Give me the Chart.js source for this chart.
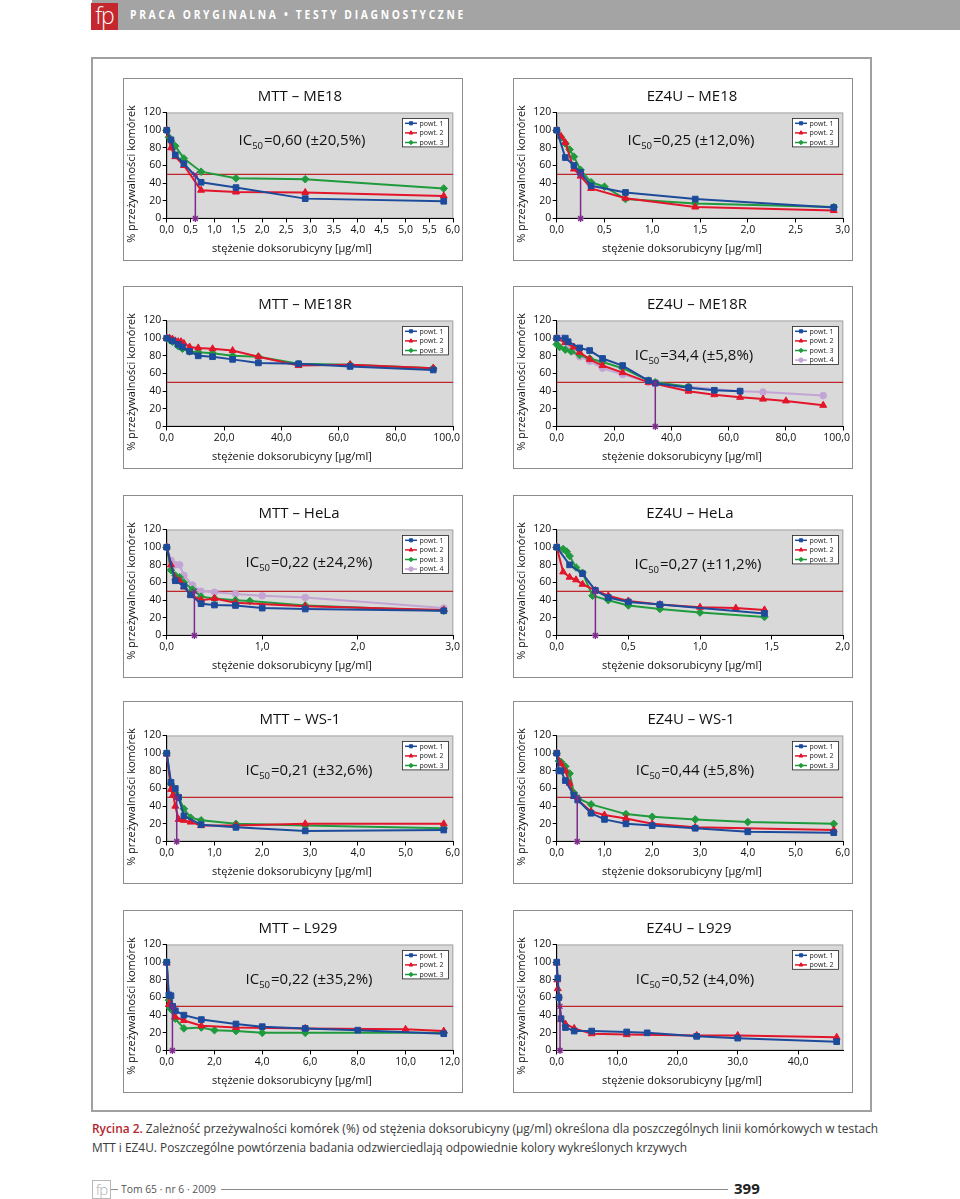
<!DOCTYPE html>
<html lang="pl">
<head>
<meta charset="utf-8">
<title>Rycina 2</title>
<script src="https://cdn.jsdelivr.net/npm/chart.js@4.4.1/dist/chart.umd.min.js"></script>
<style>
  html, body { margin: 0; padding: 0; background: #fff; }
  body { position: relative; width: 960px; height: 1199px; overflow: hidden; font-family: 'Open Sans', sans-serif; }
  .topbar { position: absolute; left: 92px; top: 0; width: 868px; height: 30px; background: #a4a4a4; }
  .logo { position: absolute; left: 91px; top: 3px; width: 27px; height: 27px; background: #c4282e; color: #fff;
          font: 300 23px/24px 'Open Sans'; text-align: center; letter-spacing: -1px; }
  .section { position: absolute; left: 130px; top: 8px; color: #fff; font: bold 11.5px/14px 'Open Sans';
             letter-spacing: 3px; white-space: nowrap; }
  .frame { position: absolute; left: 91px; top: 57px; width: 777px; height: 1051px; border: 2px solid #a0a0a0; }
  .panel { position: absolute; width: 338px; height: 181px; border: 1px solid #8c8c8c; background: #fff; }
  .panel canvas { display: block; position: absolute; left: 0; top: 0; }
  .cap { position: absolute; left: 92px; white-space: nowrap; font: 12.5px/16px 'Open Sans'; color: #3a3a3a; transform-origin: 0 50%; }
  .cap b { color: #b3262f; font-weight: 600; }
  .foot-logo { position: absolute; left: 92px; top: 1180px; width: 17px; height: 17px; border: 1px solid #b8b8b8;
               color: #b0b0b0; font: 300 15px/16px 'Open Sans'; text-align: center; letter-spacing: -1px; }
  .foot-line { position: absolute; height: 1px; background: #8a8a8a; top: 1189px; }
  .foot-text { position: absolute; left: 121px; top: 1181px; font: 10.5px/16px 'Open Sans'; color: #555; white-space: nowrap; }
  .page-no { position: absolute; left: 734px; top: 1178px; font: bold 15px/20px 'Open Sans'; color: #222; }
</style>
</head>
<body>
<div class="topbar"></div>
<div class="logo">fp</div>
<div class="section" id="section">PRACA ORYGINALNA • TESTY DIAGNOSTYCZNE</div>
<div class="frame"></div>

<div class="cap" id="cap1" style="top:1121px"><b>Rycina 2.</b> Zależność przeżywalności komórek (%) od stężenia doksorubicyny (µg/ml) określona dla poszczególnych linii komórkowych w testach</div>
<div class="cap" id="cap2" style="top:1140px">MTT i EZ4U. Poszczególne powtórzenia badania odzwierciedlają odpowiednie kolory wykreślonych krzywych</div>

<div class="foot-logo">fp</div>
<div class="foot-line" style="left:111px; width:7px"></div>
<div class="foot-text" id="foottext">Tom 65 · nr 6 · 2009</div>
<div class="foot-line" style="left:221px; width:507px"></div>
<div class="page-no">399</div>

<script>
// ---- data ----
const refLevel = 50;

// MTT – ME18
const mttMe18X1 = [0, 0.09, 0.18, 0.36, 0.72, 1.45, 2.9, 5.8];
const mttMe18Y1 = [100, 89, 72, 62, 41, 35, 22.5, 19.5];
const mttMe18X2 = [0, 0.09, 0.18, 0.36, 0.72, 1.45, 2.9, 5.8];
const mttMe18Y2 = [100, 80, 70, 60, 32, 30, 29.5, 25.5];
const mttMe18X3 = [0, 0.045, 0.09, 0.18, 0.36, 0.72, 1.45, 2.9, 5.8];
const mttMe18Y3 = [100, 92, 88, 82, 68, 53, 45.5, 44.5, 34];

// EZ4U – ME18
const ezMe18X1 = [0, 0.09, 0.18, 0.25, 0.36, 0.72, 1.45, 2.9];
const ezMe18Y1 = [100, 69, 60, 52, 37, 29.5, 22, 12.5];
const ezMe18X2 = [0, 0.045, 0.09, 0.18, 0.25, 0.36, 0.72, 1.45, 2.9];
const ezMe18Y2 = [100, 93, 86, 56, 48, 34, 23, 13, 9];
const ezMe18X3 = [0, 0.045, 0.09, 0.135, 0.18, 0.25, 0.36, 0.5, 0.72, 1.45, 2.9];
const ezMe18Y3 = [100, 92, 85, 78, 70, 55, 41, 36, 22, 17, 13];

// MTT – ME18R
const mttMe18rX1 = [0, 2, 4, 5.5, 8, 11, 16, 23, 32, 46, 64, 93];
const mttMe18rY1 = [100, 97, 93, 90, 85, 80, 79, 76, 72, 71, 68, 64];
const mttMe18rX2 = [0, 1, 2, 3, 4, 5, 6, 8, 11, 16, 23, 32, 46, 64, 93];
const mttMe18rY2 = [100, 100, 99, 97, 96, 96, 94, 90, 89, 88, 86, 79, 69, 70, 66];
const mttMe18rX3 = [0, 1, 2, 4, 5.5, 8, 11, 16, 23, 32, 46, 64, 93];
const mttMe18rY3 = [100, 98, 96, 91, 88, 85, 84, 83, 80, 79, 71, 70, 66];

// EZ4U – ME18R
const ezMe18rX1 = [0, 3, 4, 8, 11.5, 16, 23, 32, 34.4, 46, 55, 64];
const ezMe18rY1 = [100, 100, 96, 89, 86, 77, 69, 52, 49, 44, 41, 40];
const ezMe18rX2 = [0, 3, 6, 8, 11.5, 16, 23, 32, 46, 55, 64, 72, 80, 93];
const ezMe18rY2 = [100, 95, 90, 84, 76, 69, 61, 50, 40, 36, 33, 31, 29, 24];
const ezMe18rX3 = [0, 1, 3, 5, 8, 11.5, 16, 23, 32, 34.4, 46];
const ezMe18rY3 = [93, 90, 87, 85, 81, 77, 73, 66, 52, 50, 45];
const ezMe18rX4 = [0, 2, 4, 6, 8, 11.5, 16, 23, 32, 46, 64, 72, 93];
const ezMe18rY4 = [100, 100, 88, 85, 79, 74, 66, 59, 50, 45, 40, 39, 35];

// MTT – HeLa
const mttHelaX1 = [0, 0.09, 0.18, 0.25, 0.36, 0.5, 0.72, 1.0, 1.45, 2.9];
const mttHelaY1 = [100, 62, 56, 46, 36, 34.5, 34, 31, 30, 28];
const mttHelaX2 = [0, 0.045, 0.09, 0.135, 0.18, 0.25, 0.36, 0.5, 0.72, 1.45, 2.9];
const mttHelaY2 = [100, 80, 65, 62, 55, 46, 40, 42, 37, 33, 29];
const mttHelaX3 = [0, 0.045, 0.09, 0.135, 0.18, 0.27, 0.36, 0.5, 0.72, 0.87, 1.45, 2.9];
const mttHelaY3 = [100, 74, 68, 66, 60, 52, 44, 42, 40, 39, 34, 28];
const mttHelaX4 = [0, 0.045, 0.09, 0.135, 0.18, 0.27, 0.36, 0.5, 0.72, 1.0, 1.45, 2.9];
const mttHelaY4 = [100, 85, 80, 80, 68, 57, 50, 49, 47, 45, 43, 31];

// EZ4U – HeLa
const ezHelaX1 = [0, 0.09, 0.18, 0.27, 0.36, 0.5, 0.72, 1.45];
const ezHelaY1 = [100, 80, 70, 51, 43, 38, 35, 25];
const ezHelaX2 = [0, 0.045, 0.09, 0.135, 0.18, 0.27, 0.36, 0.5, 0.72, 1.0, 1.25, 1.45];
const ezHelaY2 = [100, 72, 66, 63, 58, 51, 45, 39, 35, 32, 31, 29];
const ezHelaX3 = [0, 0.045, 0.07, 0.09, 0.135, 0.18, 0.25, 0.36, 0.5, 0.72, 1.0, 1.45];
const ezHelaY3 = [100, 98, 95, 90, 77, 71, 45, 40, 34, 30, 26, 21];

// MTT – WS-1
const mttWs1X1 = [0, 0.09, 0.18, 0.25, 0.36, 0.72, 1.45, 2.9, 5.8];
const mttWs1Y1 = [100, 67, 60, 50, 29, 19, 16, 12, 13];
const mttWs1X2 = [0, 0.09, 0.135, 0.18, 0.25, 0.36, 0.5, 0.72, 1.45, 2.9, 5.8];
const mttWs1Y2 = [99, 59, 53, 40, 25, 24, 22, 18, 18, 20, 20];
const mttWs1X3 = [0, 0.09, 0.18, 0.25, 0.36, 0.5, 0.72, 1.45, 2.9, 5.8];
const mttWs1Y3 = [100, 65, 55, 50, 37, 27, 24, 20, 18, 15];

// EZ4U – WS-1
const ezWs1X1 = [0, 0.045, 0.09, 0.18, 0.36, 0.44, 0.72, 1.0, 1.45, 2.0, 2.9, 4.0, 5.8];
const ezWs1Y1 = [100, 80, 80, 69, 52, 47, 32, 25, 20, 18, 15, 11, 10];
const ezWs1X2 = [0, 0.09, 0.18, 0.27, 0.36, 0.72, 1.0, 1.45, 2.0, 2.9, 5.8];
const ezWs1Y2 = [100, 88, 80, 66, 51, 34, 30, 26, 20, 16, 13];
const ezWs1X3 = [0, 0.045, 0.09, 0.18, 0.27, 0.36, 0.44, 0.72, 1.45, 2.0, 2.9, 4.0, 5.8];
const ezWs1Y3 = [100, 91, 90, 85, 77, 55, 49, 42, 31, 28, 25, 22, 20];

// MTT – L929
const mttL929X1 = [0, 0.09, 0.18, 0.25, 0.36, 0.72, 1.45, 2.9, 4.0, 5.8, 8.0, 11.6];
const mttL929Y1 = [100, 63, 62, 50, 45, 40, 35, 30, 27, 25, 23, 19];
const mttL929X2 = [0, 0.09, 0.18, 0.36, 0.72, 1.45, 2.9, 5.8, 10, 11.6];
const mttL929Y2 = [99, 52, 52, 38, 34, 28, 26, 25, 24, 22];
const mttL929X3 = [0, 0.09, 0.135, 0.25, 0.36, 0.72, 1.45, 2.0, 2.9, 4.0, 5.8, 11.6];
const mttL929Y3 = [100, 57, 48, 45, 36, 25, 26, 23, 22, 20, 20, 20];

// EZ4U – L929
const ezL929X1 = [0, 0.18, 0.36, 0.72, 1.45, 2.9, 5.8, 11.6, 15, 23.2, 30, 46.4];
const ezL929Y1 = [100, 82, 60, 36, 26, 22, 22, 21, 20, 16, 14, 10];
const ezL929X2 = [0, 0.09, 0.18, 0.36, 0.72, 1.45, 2.9, 5.8, 11.6, 23.2, 30, 46.4];
const ezL929Y2 = [99, 80, 70, 62, 35, 30, 25, 19, 18, 17, 17, 15];

// IC50 positions (where the violet drop line is drawn) and labels
const ic50Values = [0.6, 0.25, null, 34.4, 0.29, 0.27, 0.21, 0.43, 0.24, 0.55];
const ic50Labels = ['=0,60 (±20,5%)', '=0,25 (±12,0%)', null, '=34,4 (±5,8%)', '=0,22 (±24,2%)',
                    '=0,27 (±11,2%)', '=0,21 (±32,6%)', '=0,44 (±5,8%)', '=0,22 (±35,2%)', '=0,52 (±4,0%)'];
const panelTitles = ['MTT – ME18', 'EZ4U – ME18', 'MTT – ME18R', 'EZ4U – ME18R', 'MTT – HeLa',
                     'EZ4U – HeLa', 'MTT – WS-1', 'EZ4U – WS-1', 'MTT – L929', 'EZ4U – L929'];
const xMaxes = [6, 3, 100, 100, 3, 2, 6, 6, 12, 47.5];
const xSteps = [0.5, 0.5, 20, 20, 1, 0.5, 1, 1, 2, 10];
const yMax = 120, yStep = 20;

const panelSeries = [
  [[mttMe18X1, mttMe18Y1], [mttMe18X2, mttMe18Y2], [mttMe18X3, mttMe18Y3]],
  [[ezMe18X1, ezMe18Y1], [ezMe18X2, ezMe18Y2], [ezMe18X3, ezMe18Y3]],
  [[mttMe18rX1, mttMe18rY1], [mttMe18rX2, mttMe18rY2], [mttMe18rX3, mttMe18rY3]],
  [[ezMe18rX1, ezMe18rY1], [ezMe18rX2, ezMe18rY2], [ezMe18rX3, ezMe18rY3], [ezMe18rX4, ezMe18rY4]],
  [[mttHelaX1, mttHelaY1], [mttHelaX2, mttHelaY2], [mttHelaX3, mttHelaY3], [mttHelaX4, mttHelaY4]],
  [[ezHelaX1, ezHelaY1], [ezHelaX2, ezHelaY2], [ezHelaX3, ezHelaY3]],
  [[mttWs1X1, mttWs1Y1], [mttWs1X2, mttWs1Y2], [mttWs1X3, mttWs1Y3]],
  [[ezWs1X1, ezWs1Y1], [ezWs1X2, ezWs1Y2], [ezWs1X3, ezWs1Y3]],
  [[mttL929X1, mttL929Y1], [mttL929X2, mttL929Y2], [mttL929X3, mttL929Y3]],
  [[ezL929X1, ezL929Y1], [ezL929X2, ezL929Y2]]
];

// ---- layout / styles ----
const colLeft = [123, 513];
const rowTop = [78, 286, 495, 701, 910];
const BOX_W = 338, BOX_H = 181, EXTRA_W = 24;   // canvas runs a little past the box so labels never clip
const seriesColors = ['#1d4b9b', '#e2152b', '#1f9b3d', '#c4a4d4'];
const seriesMarkers = ['rect', 'triangle', 'rectRot', 'circle'];
const markerRadius = [4, 4, 3.8, 3.3];
// text placement inside each panel box (title x, IC50 centre x / y)
const titleX = [177, 179, 182, 184, 176, 177, 177, 178, 175, 176];
const icPos = [[179, 63], [178, 63], null, [181, 70], [186, 68], [185, 70], [186, 70], [182, 70], [186, 70], [182, 70]];

const FONT = "'Open Sans', sans-serif";
Chart.defaults.font.family = FONT;
Chart.defaults.color = '#111';

const fmt1 = v => Number(v).toFixed(1).replace('.', ',');

function pt(ctx, style, r, x, y, color) {
  if (Chart.helpers && Chart.helpers.drawPoint) {
    ctx.fillStyle = color; ctx.strokeStyle = color; ctx.lineWidth = 1;
    Chart.helpers.drawPoint(ctx, {pointStyle: style, radius: r, rotation: 0, borderWidth: 1}, x, y);
  } else {
    ctx.fillStyle = color; ctx.fillRect(x - r, y - r, 2 * r, 2 * r);
  }
}

const panelDecor = {
  id: 'panelDecor',
  beforeDraw(chart) {
    const {ctx, chartArea: a} = chart;
    ctx.save();
    ctx.fillStyle = '#d9d9d9';
    ctx.fillRect(a.left, a.top, a.right - a.left, a.bottom - a.top);
    ctx.strokeStyle = '#a6a6a6';
    ctx.lineWidth = 1;
    ctx.strokeRect(a.left + 0.5, a.top + 0.5, a.right - a.left - 1, a.bottom - a.top - 1);
    ctx.restore();
  },
  afterDraw(chart, args, o) {
    const {ctx, chartArea: a} = chart;
    const xs = chart.scales.x;
    ctx.save();
    ctx.fillStyle = '#111';
    ctx.textBaseline = 'middle';
    ctx.textAlign = 'center';
    // x tick labels, placed by the x scale; the last one is kept inside the panel box
    ctx.font = '10.5px ' + FONT;
    xs.ticks.forEach(t => {
      const s = fmt1(t.value);
      const w = ctx.measureText(s).width;
      let cx = xs.getPixelForValue(t.value);
      cx = Math.min(cx, BOX_W - 2 - w / 2);
      ctx.fillText(s, cx, a.bottom + 12);
    });
    // panel title
    ctx.font = '15px ' + FONT;
    ctx.fillText(o.title, o.titleX - 1, 18);
    // axis titles
    ctx.font = '11px ' + FONT;
    ctx.fillText('stężenie doksorubicyny [µg/ml]', 168, 169.5);
    ctx.save();
    ctx.translate(8, 95);
    ctx.rotate(-Math.PI / 2);
    ctx.fillText('% przeżywalności komórek', 0, 0);
    ctx.restore();
    // IC50 annotation
    if (o.icLabel) {
      const big = '15px ' + FONT, small = '9.5px ' + FONT;
      ctx.font = big; const w1 = ctx.measureText('IC').width, w3 = ctx.measureText(o.icLabel).width;
      ctx.font = small; const w2 = ctx.measureText('50').width + 1;
      let x = o.icPos[0] - 1 - (w1 + w2 + w3) / 2;
      const y = o.icPos[1] - 1;
      ctx.textAlign = 'left';
      ctx.font = big; ctx.fillText('IC', x, y);
      ctx.font = small; ctx.fillText('50', x + w1, y + 5);
      ctx.font = big; ctx.fillText(o.icLabel, x + w1 + w2, y);
    }
    // legend box
    const items = chart.data.datasets.filter(d => d.label && d.label.indexOf('powt') === 0);
    const lw = 46, lh = 9.6 * items.length - 0.4;
    const bx = Math.round(a.right - 5 - lw) + 0.5, by = Math.round(a.top + 5) + 0.5;
    ctx.fillStyle = '#fff';
    ctx.fillRect(bx, by, lw, lh);
    ctx.strokeStyle = '#222'; ctx.lineWidth = 0.8;
    ctx.strokeRect(bx, by, lw, lh);
    ctx.font = '7px ' + FONT;
    ctx.textAlign = 'left';
    items.forEach((d, i) => {
      const cy = by + 4.8 + i * 9.6;
      ctx.strokeStyle = d.borderColor; ctx.lineWidth = 1.5;
      ctx.beginPath(); ctx.moveTo(bx + 2.5, cy); ctx.lineTo(bx + 14.5, cy); ctx.stroke();
      pt(ctx, d.pointStyle, 2.2, bx + 8.5, cy, d.borderColor);
      ctx.fillStyle = '#222';
      ctx.fillText(d.label, bx + 17, cy + 0.3);
    });
    ctx.restore();
  }
};

function buildPanel(i) {
  const box = document.createElement('div');
  box.className = 'panel';
  box.style.left = colLeft[i % 2] + 'px';
  box.style.top = rowTop[Math.floor(i / 2)] + 'px';
  const cv = document.createElement('canvas');
  cv.width = BOX_W + EXTRA_W; cv.height = BOX_H;
  box.appendChild(cv);
  document.body.appendChild(box);

  const datasets = panelSeries[i].map((s, k) => ({
    label: 'powt. ' + (k + 1),
    data: s[0].map((x, j) => ({x: x, y: s[1][j]})),
    borderColor: seriesColors[k],
    backgroundColor: seriesColors[k],
    pointStyle: seriesMarkers[k],
    pointRadius: markerRadius[k],
    pointBorderWidth: 1,
    borderWidth: 2,
    tension: 0,
    clip: false,
    order: k
  }));
  datasets.push({
    label: 'ref',
    data: [{x: 0, y: refLevel}, {x: xMaxes[i], y: refLevel}],
    borderColor: '#c0272d', borderWidth: 1.4, pointRadius: 0, order: 20
  });
  if (ic50Values[i] != null) {
    datasets.push({
      label: 'ic50',
      data: [{x: ic50Values[i], y: refLevel}, {x: ic50Values[i], y: 0}],
      borderColor: '#7d2b8b', backgroundColor: '#7d2b8b', borderWidth: 1.5,
      pointStyle: ['crossRot', 'star'], pointRadius: 3.5, pointBorderWidth: 1.3,
      clip: false, order: -1
    });
  }

  new Chart(cv, {
    type: 'line',
    data: {datasets: datasets},
    plugins: [panelDecor],
    options: {
      responsive: false,
      animation: false,
      events: [],
      layout: {padding: {top: 33.5, right: 8.7 + EXTRA_W, bottom: 0, left: 0}},
      plugins: {
        legend: {display: false},
        tooltip: {enabled: false},
        panelDecor: {title: panelTitles[i], titleX: titleX[i], icLabel: ic50Labels[i], icPos: icPos[i]}
      },
      scales: {
        x: {
          type: 'linear', min: 0, max: xMaxes[i],
          ticks: {display: false, stepSize: xSteps[i], includeBounds: false, autoSkip: false, maxRotation: 0},
          grid: {drawOnChartArea: false, drawTicks: true, tickLength: 4, color: '#000', tickColor: '#000'},
          border: {display: true, color: '#000', width: 1},
          afterFit: s => { s.height = 41.5; s.paddingLeft = 0; s.paddingRight = 0; }
        },
        y: {
          min: 0, max: yMax,
          ticks: {stepSize: yStep, padding: 1.5, color: '#111', font: {size: 10.5}},
          grid: {drawOnChartArea: false, drawTicks: true, tickLength: 4, color: '#000', tickColor: '#000'},
          border: {display: true, color: '#000', width: 1},
          afterFit: s => { s.width = 42.7; s.paddingTop = 0; s.paddingBottom = 0; }
        }
      }
    }
  });
}

for (let i = 0; i < panelTitles.length; i++) buildPanel(i);

// stretch caption / header text to the widths they occupy on the page
function fitWidth(el, target) {
  const w = el.getBoundingClientRect().width;
  return w ? target / w : 1;
}
const s1 = fitWidth(document.getElementById('cap1'), 786);
document.getElementById('cap1').style.transform = 'scaleX(' + s1 + ')';
document.getElementById('cap2').style.transform = 'scaleX(' + s1 + ')';
const sec = document.getElementById('section');
const ss = fitWidth(sec, 336);
sec.style.transformOrigin = '0 50%';
sec.style.transform = 'scaleX(' + ss + ')';
const ft = document.getElementById('foottext');
ft.style.transformOrigin = '0 50%';
ft.style.transform = 'scaleX(' + fitWidth(ft, 95) + ')';
</script>
</body>
</html>
